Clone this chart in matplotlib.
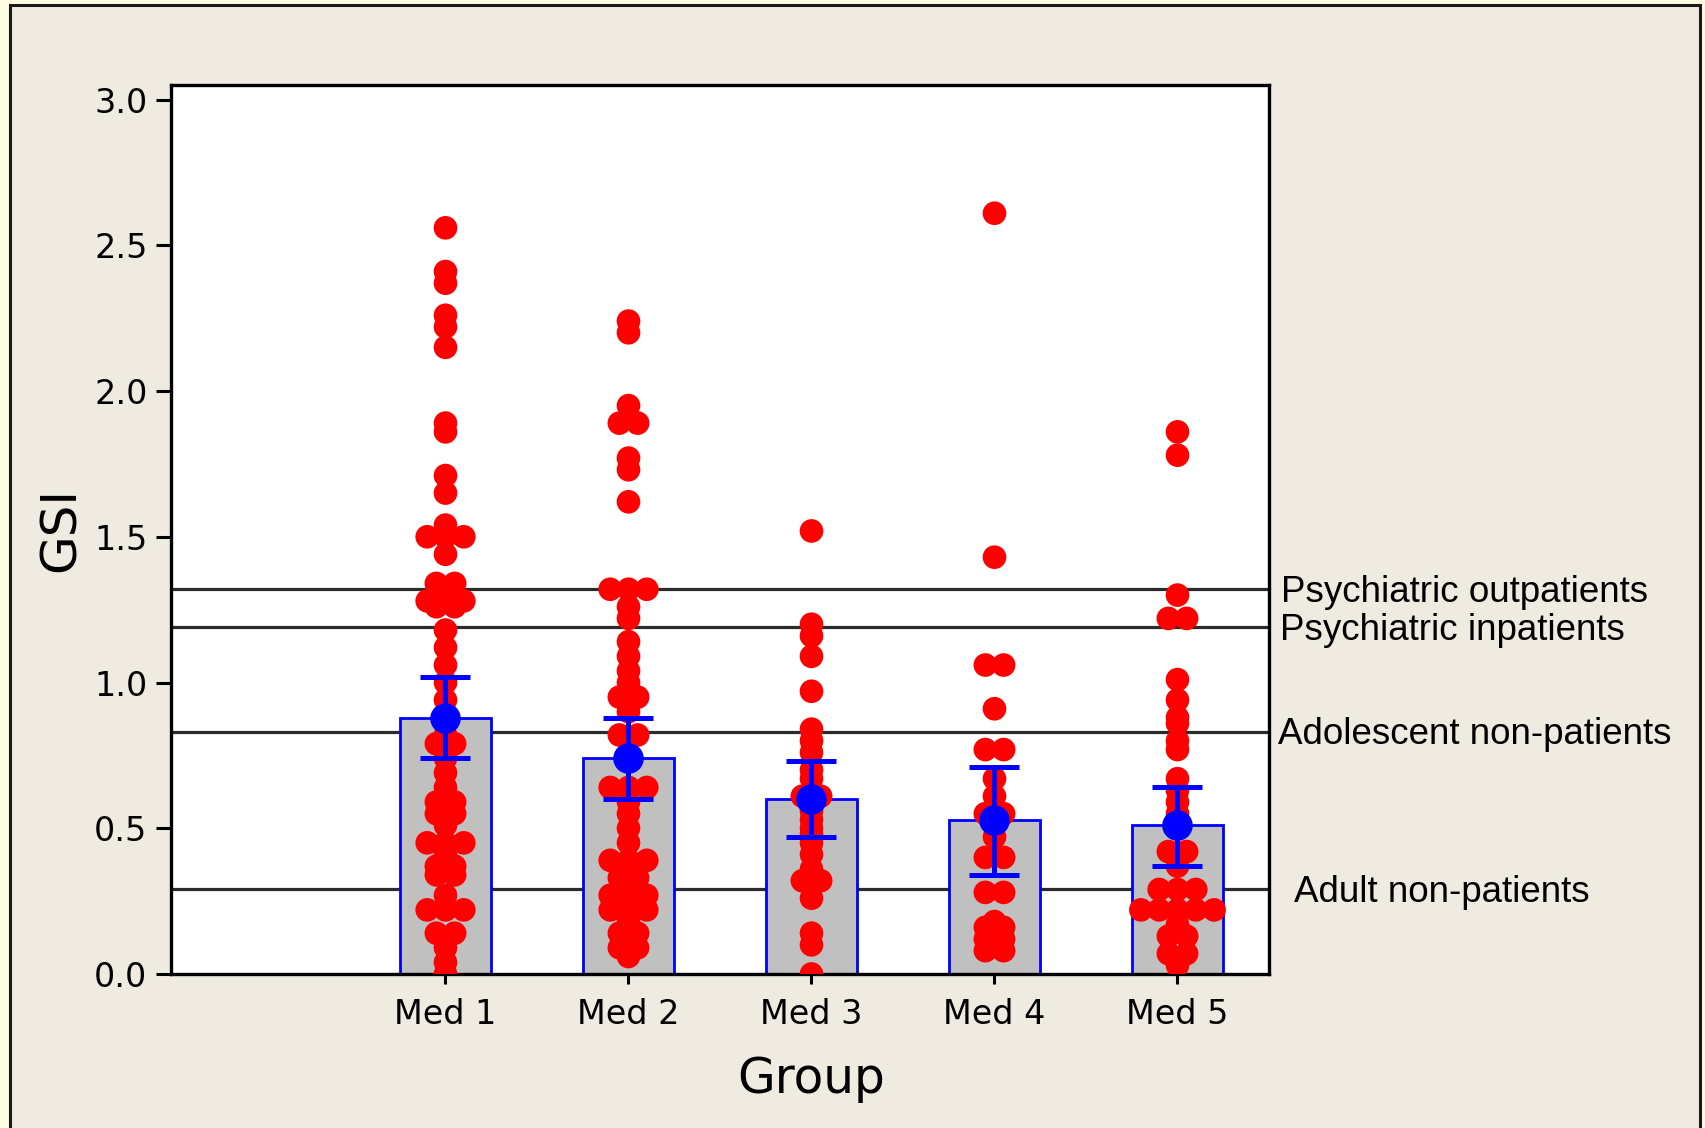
import numpy as np
import matplotlib
matplotlib.use("Agg")
import matplotlib.pyplot as plt
from matplotlib.patches import Rectangle

# --- data ---
groups = ["Med 1", "Med 2", "Med 3", "Med 4", "Med 5"]
positions = [1, 2, 3, 4, 5]

med1 = [2.56, 2.41, 2.37, 2.26, 2.22, 2.15, 1.89, 1.86, 1.71, 1.65, 1.54, 1.50, 1.50, 1.50,
        1.44, 1.34, 1.34, 1.31, 1.28, 1.28, 1.28, 1.26, 1.26, 1.18, 1.12, 1.06, 1.00, 0.94,
        0.88, 0.82, 0.79, 0.79, 0.74, 0.69, 0.64, 0.59, 0.59, 0.55, 0.55, 0.51, 0.45, 0.45,
        0.45, 0.41, 0.37, 0.37, 0.34, 0.34, 0.27, 0.22, 0.22, 0.22, 0.14, 0.14, 0.09, 0.04, 0.00]
med2 = [2.24, 2.20, 1.95, 1.89, 1.89, 1.77, 1.73, 1.62, 1.32, 1.32, 1.32, 1.26, 1.22, 1.14,
        1.09, 1.04, 1.00, 0.95, 0.95, 0.90, 0.82, 0.82, 0.74, 0.64, 0.64, 0.64, 0.59, 0.55,
        0.50, 0.45, 0.39, 0.39, 0.39, 0.33, 0.33, 0.29, 0.27, 0.27, 0.27, 0.22, 0.22, 0.22,
        0.18, 0.14, 0.14, 0.09, 0.09, 0.06]
med3 = [1.52, 1.20, 1.16, 1.09, 0.97, 0.84, 0.80, 0.76, 0.70, 0.67, 0.61, 0.61, 0.56, 0.53,
        0.50, 0.48, 0.45, 0.41, 0.36, 0.32, 0.32, 0.26, 0.14, 0.10, 0.00]
med4 = [2.61, 1.43, 1.06, 1.06, 0.91, 0.77, 0.77, 0.67, 0.61, 0.55, 0.55, 0.47, 0.40, 0.40,
        0.28, 0.28, 0.18, 0.16, 0.16, 0.12, 0.12, 0.08, 0.08]
med5 = [1.86, 1.78, 1.30, 1.22, 1.22, 1.01, 0.94, 0.88, 0.86, 0.80, 0.77, 0.67, 0.63, 0.59,
        0.55, 0.51, 0.42, 0.42, 0.37, 0.29, 0.29, 0.29, 0.22, 0.22, 0.22, 0.22, 0.22, 0.17,
        0.13, 0.13, 0.07, 0.07, 0.03]
all_groups = [med1, med2, med3, med4, med5]

means = [0.88, 0.74, 0.60, 0.53, 0.51]
err_low = [0.74, 0.60, 0.47, 0.34, 0.37]
err_high = [1.02, 0.88, 0.73, 0.71, 0.64]

ref_values = [1.32, 1.19, 0.83, 0.29]
ref_labels = ["Psychiatric outpatients", "Psychiatric inpatients",
              "Adolescent non-patients", "Adult non-patients"]
ref_label_x = [1.011, 1.010, 1.008, 1.023]

# --- figure with framed beige panel ---
fig = plt.figure(figsize=(17.06, 11.28), dpi=100, facecolor="#fffce0")
panel = Rectangle((10 / 1706, -0.05), 1690 / 1706, 1.05 - 5 / 1128,
                  transform=fig.transFigure, facecolor="#efebe0",
                  edgecolor="#1a1a1a", linewidth=2.2, zorder=-10)
fig.patches.append(panel)

ax = fig.add_axes([171 / 1706, 1 - 974 / 1128, 1098 / 1706, 889 / 1128])
ax.set_zorder(1)
ax.set_facecolor("white")

# reference lines (behind bars)
for v in ref_values:
    ax.axhline(v, color="#2b2b2b", linewidth=2.3, zorder=1)

# bars
ax.bar(positions, means, width=0.5, color="#c0c0c0", edgecolor="#0000ff",
       linewidth=2.0, zorder=2)

# stacked dot plot: equal values placed side by side
for pos, vals in zip(positions, all_groups):
    vals = np.array(vals)
    xs = np.zeros(len(vals), dtype=float)
    for v in np.unique(vals):
        idx = np.where(vals == v)[0]
        n = len(idx)
        xs[idx] = pos + (np.arange(n) - (n - 1) / 2) * 0.1
    ax.scatter(xs, vals, s=290, color="#ff0000", edgecolors="none", zorder=3)

# mean +/- error
yerr = [np.array(means) - np.array(err_low), np.array(err_high) - np.array(means)]
ax.errorbar(positions, means, yerr=yerr, fmt="o", color="#0000ff", markersize=21,
            elinewidth=3.6, capsize=18, capthick=3.6, zorder=4)

ax.set_xlim(-0.5, 5.5)
ax.set_ylim(0, 3.05)
ax.set_xticks(positions)
ax.set_xticklabels(groups)
ax.set_yticks([0.0, 0.5, 1.0, 1.5, 2.0, 2.5, 3.0])
ax.set_yticklabels(["%.1f" % t for t in ax.get_yticks()])

for s in ax.spines.values():
    s.set_linewidth(2.4)
    s.set_color("black")
ax.tick_params(axis="y", length=11, width=2.2, labelsize=24, pad=6)
ax.tick_params(axis="x", length=7, width=2.2, labelsize=24, pad=10)

# x label centred on the group range, not the axes
ax.text(3, -0.118, "Group", transform=ax.get_xaxis_transform(), ha="center", va="center",
        fontsize=35)
ax.set_ylabel("GSI", fontsize=36, labelpad=7)

for v, lab, lx in zip(ref_values, ref_labels, ref_label_x):
    ax.text(lx, v - 0.01, lab, transform=ax.get_yaxis_transform(), ha="left", va="center",
            fontsize=26.5, family="Liberation Sans", clip_on=False)

fig.savefig("out.png", dpi=100, facecolor=fig.get_facecolor())
